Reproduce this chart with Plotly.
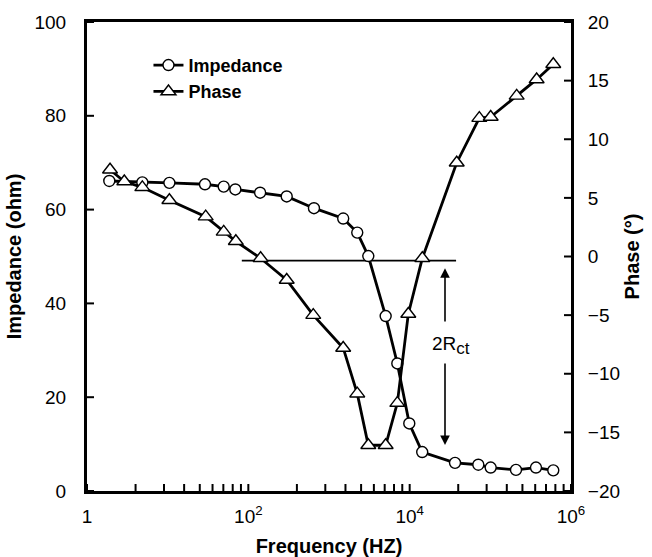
import plotly.graph_objects as go

# ---- data ----
imp_freq = [1.89, 4.85, 10.5, 29, 49.5, 69, 140, 299, 651, 1500, 2240, 3070,
            5040, 7030, 9890, 14300, 36500, 71000, 101000, 208000, 368000, 603000]
impedance = [66.1, 65.8, 65.7, 65.4, 64.9, 64.3, 63.6, 62.8, 60.3, 58.1, 55.1, 50.1,
             37.3, 27.2, 14.4, 8.3, 6.0, 5.6, 5.0, 4.5, 5.0, 4.4]

phase_freq = [1.93, 2.9, 4.85, 10.5, 29.6, 49.5, 70, 142, 299, 638, 1500, 2240,
              3070, 5040, 7030, 9620, 14350, 38300, 73000, 101000, 212000, 375000, 603000]
phase = [7.4, 6.4, 5.9, 4.8, 3.4, 2.1, 1.3, -0.15, -2.0, -5.0, -7.8, -11.7,
         -16.1, -16.1, -12.5, -4.9, -0.15, 8.0, 11.8, 11.9, 13.7, 15.1, 16.4]

ref_line_freq = [83, 37600]
ref_line_imp = [49.1, 49.1]

x_tickvals = [1, 100, 10000, 1000000]
x_ticktext = ["1", "10<sup>2</sup>", "10<sup>4</sup>", "10<sup>6</sup>"]
y_tickvals = [0, 20, 40, 60, 80, 100]
y2_tickvals = [-20, -15, -10, -5, 0, 5, 10, 15, 20]

# annotation (2Rct arrows) positions in data units (log10 freq, impedance)
arrow_logf = 4.438
arrow_up = (35.8, 47.5)
arrow_down = (27.5, 9.8)
label_imp = 31.1

FONT = "Liberation Sans, Arial, sans-serif"

fig = go.Figure()

fig.add_trace(go.Scatter(
    x=ref_line_freq, y=ref_line_imp, mode="lines",
    line=dict(color="black", width=1.8), showlegend=False, hoverinfo="skip"))

fig.add_trace(go.Scatter(
    x=imp_freq, y=impedance, mode="lines+markers", name="Impedance",
    line=dict(color="black", width=2.8),
    marker=dict(symbol="circle", size=11, color="white",
                line=dict(color="black", width=1.4))))

fig.add_trace(go.Scatter(
    x=phase_freq, y=phase, mode="lines+markers", name="Phase", yaxis="y2",
    line=dict(color="black", width=2.8),
    marker=dict(symbol="triangle-up", size=13, color="white",
                line=dict(color="black", width=1.4))))

# tick marks drawn as shapes (Excel-style log-100 axis: minor ticks at k^2 within each 100x span)
minor_ticks = [m * k * k for m in (1, 100, 10000) for k in range(2, 10)]
tick_line = dict(color="black", width=2)
tick_shapes = [
    dict(type="line", xref="x", yref="paper", x0=v, x1=v,
         ysizemode="pixel", yanchor=0, y0=0, y1=7, line=tick_line, layer="above")
    for v in minor_ticks + x_tickvals
]
tick_shapes += [
    dict(type="line", xref="paper", yref="y", y0=v, y1=v,
         xsizemode="pixel", xanchor=0, x0=0, x1=7, line=tick_line, layer="above")
    for v in y_tickvals
]
tick_shapes += [
    dict(type="line", xref="paper", yref="y2", y0=v, y1=v,
         xsizemode="pixel", xanchor=1, x0=-7, x1=0, line=tick_line, layer="above")
    for v in y2_tickvals
]

fig.update_layout(
    width=652, height=557,
    margin=dict(l=87, r=81, t=22, b=66, autoexpand=False),
    paper_bgcolor="white", plot_bgcolor="white",
    font=dict(family=FONT, size=19, color="black"),
    showlegend=True,
    legend=dict(x=0.127, y=0.947, xanchor="left", yanchor="top",
                bgcolor="rgba(0,0,0,0)", borderwidth=0,
                font=dict(family=FONT, size=18, color="black", weight="bold"),
                tracegroupgap=0, itemwidth=30),
    xaxis=dict(
        type="log", range=[0, 6], automargin=False,
        tickmode="array", tickvals=x_tickvals, ticktext=x_ticktext,
        ticks="",
        showline=True, linecolor="black", linewidth=3, mirror=True,
        showgrid=False, zeroline=False,
        ticklabelstandoff=6,
        tickfont=dict(family=FONT, size=19),
        title=dict(text="Frequency (HZ)", standoff=16,
                   font=dict(family=FONT, size=20, weight="bold")),
    ),
    yaxis=dict(
        range=[0, 100], tickmode="array", tickvals=y_tickvals, automargin=False,
        ticks="",
        showline=True, linecolor="black", linewidth=3,
        showgrid=False, zeroline=False,
        ticklabelstandoff=14,
        tickfont=dict(family=FONT, size=19),
        title=dict(text="Impedance (ohm)", standoff=8,
                   font=dict(family=FONT, size=20, weight="bold")),
    ),
    yaxis2=dict(
        range=[-20, 20], overlaying="y", side="right", automargin=False,
        tickmode="array", tickvals=y2_tickvals,
        ticks="",
        showline=True, linecolor="black", linewidth=3,
        showgrid=False, zeroline=False,
        ticklabelstandoff=10,
        tickfont=dict(family=FONT, size=19),
        title=dict(text="Phase (°)", standoff=6,
                   font=dict(family=FONT, size=20, weight="bold")),
    ),
    shapes=tick_shapes,
    annotations=[
        dict(x=arrow_logf, y=arrow_up[1], ax=arrow_logf, ay=arrow_up[0],
             xref="x", yref="y", axref="x", ayref="y", text="", showarrow=True,
             arrowhead=2, arrowsize=1.2, arrowwidth=1.6, arrowcolor="black"),
        dict(x=arrow_logf, y=arrow_down[1], ax=arrow_logf, ay=arrow_down[0],
             xref="x", yref="y", axref="x", ayref="y", text="", showarrow=True,
             arrowhead=2, arrowsize=1.2, arrowwidth=1.6, arrowcolor="black"),
        dict(x=arrow_logf + 0.07, y=label_imp, xref="x", yref="y",
             text="2R<sub><span style='font-size:17px'>ct</span></sub>",
             showarrow=False,
             font=dict(family=FONT, size=19, color="black")),
    ],
)

fig.write_html("out.html")
